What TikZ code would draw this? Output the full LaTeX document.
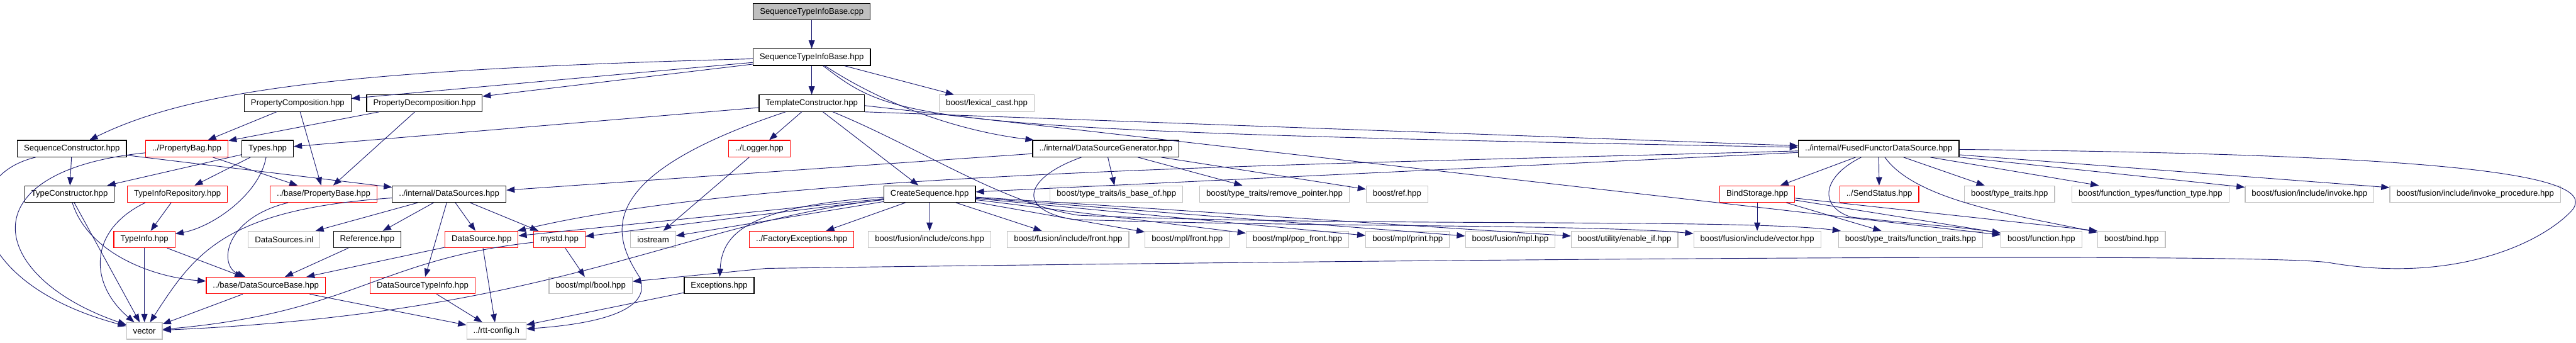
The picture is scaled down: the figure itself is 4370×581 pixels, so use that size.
\documentclass[tikz,border=0pt]{standalone}
\usepackage{fontspec}
\setmainfont{Liberation Sans}
\usepackage{tikz}
\usetikzlibrary{arrows.meta}
\definecolor{edgeblue}{HTML}{191970}
\definecolor{grey75}{HTML}{BFBFBF}

\begin{document}
\begin{tikzpicture}[x=0.25mm,y=-0.25mm,
  file/.style={draw=black,line width=0.9pt,fill=white,minimum height=7mm,
    inner xsep=2.8mm,inner ysep=0pt,font=\fontsize{10}{12}\selectfont},
  root/.style={file,fill=grey75},
  trunc/.style={file,draw=red},
  ext/.style={file,draw=grey75},
  dep/.style={edgeblue,line width=0.7pt,-{Triangle[length=3.5mm,width=2.6mm]}}]
  \useasboundingbox (0,0) rectangle (4370,581);
  % rows 0-2
  \node[root] (cpp) at (1377,20) {SequenceTypeInfoBase.cpp};
  \node[file] (stib) at (1377,97) {SequenceTypeInfoBase.hpp};
  \node[file] (pcomp) at (505,175) {PropertyComposition.hpp};
  \node[file] (pdecomp) at (720,175) {PropertyDecomposition.hpp};
  \node[file] (tc) at (1377,175) {TemplateConstructor.hpp};
  \node[ext] (lexcast) at (1674,175) {boost/lexical\_cast.hpp};
  % row 3
  \node[file] (seqcons) at (122,252) {SequenceConstructor.hpp};
  \node[trunc] (pbag) at (317,252) {../PropertyBag.hpp};
  \node[file] (types) at (454,252) {Types.hpp};
  \node[trunc] (logger) at (1288,252) {../Logger.hpp};
  \node[file] (dsg) at (1876,252) {../internal/DataSourceGenerator.hpp};
  \node[file] (ffds) at (3187,252) {../internal/FusedFunctorDataSource.hpp};
  % row 4
  \node[file] (typecons) at (118,329) {TypeConstructor.hpp};
  \node[trunc] (tirepo) at (301,329) {TypeInfoRepository.hpp};
  \node[trunc] (pbase) at (549,329) {../base/PropertyBase.hpp};
  \node[file] (dsources) at (762,329) {../internal/DataSources.hpp};
  \node[file] (cseq) at (1577,329) {CreateSequence.hpp};
  \node[ext] (isbase) at (1894,329) {boost/type\_traits/is\_base\_of.hpp};
  \node[ext] (rmptr) at (2162,329) {boost/type\_traits/remove\_pointer.hpp};
  \node[ext] (bref) at (2370,329) {boost/ref.hpp};
  \node[trunc] (bindst) at (2981,329) {BindStorage.hpp};
  \node[trunc] (sendst) at (3188,329) {../SendStatus.hpp};
  \node[ext] (ttraits) at (3409,329) {boost/type\_traits.hpp};
  \node[ext] (ftype) at (3648,329) {boost/function\_types/function\_type.hpp};
  \node[ext] (invoke) at (3918,329) {boost/fusion/include/invoke.hpp};
  \node[ext] (invproc) at (4199,329) {boost/fusion/include/invoke\_procedure.hpp};
  % row 5
  \node[trunc] (typeinfo) at (245,406) {TypeInfo.hpp};
  \node[ext] (dsinl) at (482,406) {DataSources.inl};
  \node[file] (reference) at (623,406) {Reference.hpp};
  \node[trunc] (datasrc) at (817,406) {DataSource.hpp};
  \node[trunc] (mystd) at (949,406) {mystd.hpp};
  \node[ext] (iostream) at (1108,406) {iostream};
  \node[trunc] (factexc) at (1360,406) {../FactoryExceptions.hpp};
  \node[ext] (cons) at (1577,406) {boost/fusion/include/cons.hpp};
  \node[ext] (ffront) at (1812,406) {boost/fusion/include/front.hpp};
  \node[ext] (mfront) at (2014,406) {boost/mpl/front.hpp};
  \node[ext] (popfront) at (2201,406) {boost/mpl/pop\_front.hpp};
  \node[ext] (mprint) at (2388,406) {boost/mpl/print.hpp};
  \node[ext] (fmpl) at (2562,406) {boost/fusion/mpl.hpp};
  \node[ext] (enableif) at (2756,406) {boost/utility/enable\_if.hpp};
  \node[ext] (fvector) at (2981,406) {boost/fusion/include/vector.hpp};
  \node[ext] (ftraits) at (3241,406) {boost/type\_traits/function\_traits.hpp};
  \node[ext] (bfunc) at (3463,406) {boost/function.hpp};
  \node[ext] (bbind) at (3616,406) {boost/bind.hpp};
  % rows 6-7
  \node[trunc] (dsbase) at (451,484) {../base/DataSourceBase.hpp};
  \node[trunc] (dstinfo) at (717,484) {DataSourceTypeInfo.hpp};
  \node[ext] (mplbool) at (1002,484) {boost/mpl/bool.hpp};
  \node[file] (excep) at (1220,484) {Exceptions.hpp};
  \node[ext] (vec) at (245,561) {vector};
  \node[ext] (rttcfg) at (842,561) {../rtt-config.h};

  % straight includes
  \draw[dep] (cpp) edge (stib);
  \draw[dep] (stib) edge (pcomp) edge (pdecomp) edge (tc) edge (lexcast);
  \draw[dep] (tc) edge (types) edge (logger) edge (cseq);
  \draw[dep] (tc.south east) -- (ffds);
  \draw[dep] ([yshift=-1mm]tc.east) -- (bfunc);
  \draw[dep] (logger) edge (iostream);
  \draw[dep] (dsg) edge (dsources) edge (isbase) edge (rmptr) edge (bref);
  \draw[dep] (ffds) edge (bindst) edge (sendst) edge (ttraits) edge (ftype)
    edge (invoke) edge (invproc) edge (cseq);
  \draw[dep] (seqcons) edge (typecons) edge (dsources);
  \draw[dep] (pbag) edge (pbase);
  \draw[dep] (pcomp) edge (pbag) edge (pbase);
  \draw[dep] (pdecomp) edge (pbag) edge (pbase);
  \draw[dep] (types) edge (typecons) edge (tirepo);
  \draw[dep] (typecons) edge (vec);
  \draw[dep] (tirepo) edge (typeinfo);
  \draw[dep] (dsources) edge (dsinl) edge (reference) edge (dstinfo) edge (datasrc) edge (mystd);
  \draw[dep] (cseq) edge (cons) edge (ffront) edge (mfront) edge (popfront) edge (mprint)
    edge (fmpl) edge (enableif) edge (factexc) edge (datasrc) edge (mystd) edge (iostream);
  \draw[dep] (typeinfo) edge (vec) edge (dsbase);
  \draw[dep] (reference) edge (dsbase);
  \draw[dep] (datasrc) edge (dsbase) edge (rttcfg);
  \draw[dep] (mystd) edge (mplbool);
  \draw[dep] (dstinfo) edge (rttcfg);
  \draw[dep] (dsbase) edge (vec) edge (rttcfg);
  \draw[dep] (excep) edge (rttcfg);
  \draw[dep] (bindst) edge (fvector) edge (ftraits) edge (bfunc);
  \draw[dep] (bindst) -- (bbind.north west);

  % curved includes
  \draw[dep] (stib) .. controls (600,118) and (330,150) .. (seqcons);
  \draw[dep] (stib) .. controls (1520,190) and (1650,225) .. (dsg);
  \draw[dep] (stib) .. controls (1520,205) and (1540,222) .. (ffds);
  \draw[dep] (tc) .. controls (1000,300) and (1040,400) .. (1085,470)
    .. controls (1110,530) and (1000,550) .. (rttcfg);
  \draw[dep] (tc) .. controls (1560,250) and (1700,345) .. (1830,365)
    .. controls (2300,385) and (2950,370) .. (ftraits);
  \draw[dep] (seqcons) .. controls (-80,300) and (-60,480) .. (vec);
  \draw[dep] (pbag) .. controls (-60,290) and (-20,470) .. (vec);
  \draw[dep] (tirepo.195) .. controls (150,390) and (150,480) .. (vec);
  \draw[dep] (typecons) .. controls (150,430) and (260,470) .. (dsbase);
  \draw[dep] (types) .. controls (440,330) and (360,385) .. (typeinfo);
  \draw[dep] (pbase) .. controls (380,370) and (370,450) .. (dsbase);
  \draw[dep] (dsources) .. controls (380,355) and (330,430) .. (vec);
  \draw[dep] (mystd) .. controls (640,440) and (600,530) .. (vec);
  \draw[dep] (cseq) .. controls (1150,380) and (950,530) .. (vec);
  \draw[dep] (cseq) .. controls (1260,350) and (1225,400) .. (excep);
  \draw[dep] (dsg) .. controls (1740,300) and (1720,355) .. (1820,372)
    .. controls (2200,385) and (2700,380) .. (fvector);
  \draw[dep] (ffds) .. controls (2200,280) and (1300,290) .. (datasrc);
  \draw[dep] (ffds) .. controls (3090,300) and (3085,350) .. (3140,368)
    .. controls (3250,380) and (3330,385) .. (bfunc);
  \draw[dep] (ffds) .. controls (3250,340) and (3420,365) .. (bbind);
  % long loop round the right side
  \draw[dep] (ffds) .. controls (4200,262) and (4420,300) .. (4360,360)
    .. controls (4300,420) and (4150,480) .. (3950,445)
    .. controls (3800,425) and (2000,445) .. (1300,455) -- (mplbool);
\end{tikzpicture}
\end{document}
